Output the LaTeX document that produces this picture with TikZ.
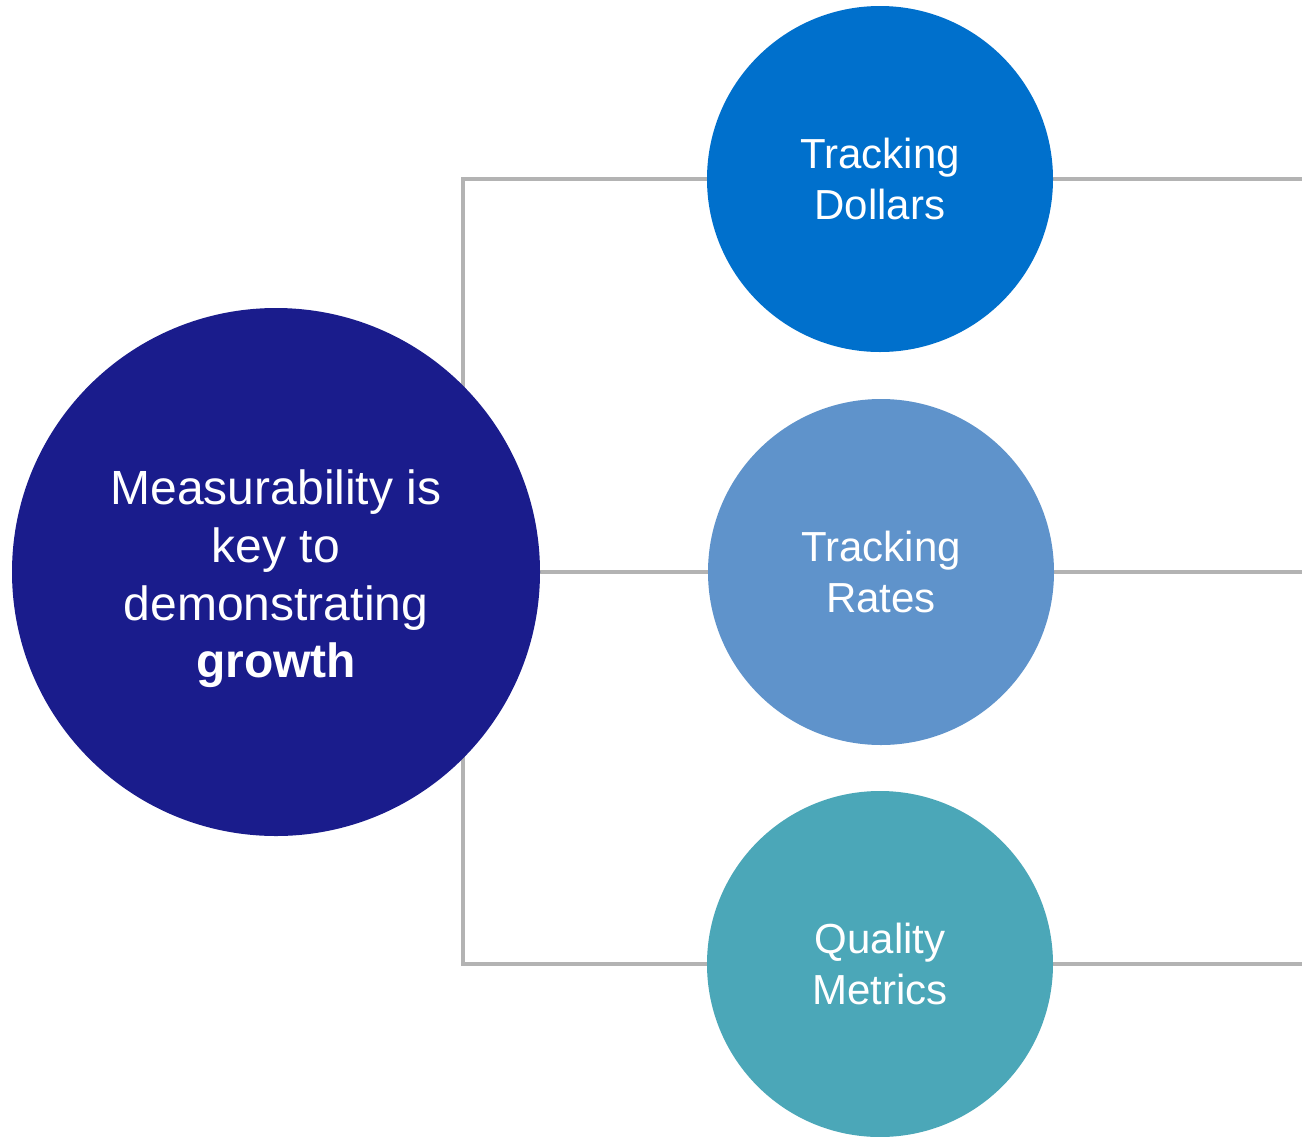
\documentclass[tikz,border=0pt]{standalone}
\usepackage{fontspec}
\setmainfont{Liberation Sans}
\usetikzlibrary{backgrounds}
\definecolor{hubblue}{HTML}{1A1C8C}
\definecolor{dollarblue}{HTML}{0070CC}
\definecolor{rateblue}{HTML}{5F93CB}
\definecolor{qualityteal}{HTML}{4BA7B8}
\definecolor{linkgray}{HTML}{B3B3B3}
\begin{document}
\begin{tikzpicture}[x=1pt,y=-1pt,
  hubcircle/.style={circle,inner sep=0pt,minimum size=528pt,fill=hubblue},
  hubtext/.style={text=white,align=center,inner sep=0pt,
    font=\fontsize{48}{57.6}\selectfont},
  topic/.style={circle,inner sep=0pt,minimum size=346pt,
    text=white,align=center,font=\fontsize{42}{50.4}\selectfont},
  link/.style={draw=linkgray,line width=3.5pt}]
\useasboundingbox (0,0) rectangle (1302,1136);

\node[hubcircle] (hub) at (276,572) {};
\node[hubtext] (hublabel) at ([yshift=-7pt]hub.center)
  {Measurability is\\key to\\demonstrating\\\textbf{growth}};
\node[topic,fill=dollarblue] (dollars) at (880,179) {Tracking\\Dollars};
\node[topic,fill=rateblue] (rates) at (881,572) {Tracking\\Rates};
\node[topic,fill=qualityteal] (quality) at (880,964) {Quality\\Metrics};

\coordinate (spine) at (463,572);
\coordinate (dollarsout) at (1302,179);
\coordinate (ratesout) at (1302,572);
\coordinate (qualityout) at (1302,964);

\begin{scope}[on background layer]
  \fill[white] (0,0) rectangle (1302,1136);
  \draw[link] (dollars.west) -| (spine);
  \draw[link] (quality.west) -| (spine);
  \draw[link] (hub.east) -- (rates.west);
  \draw[link] (dollars.east) -- (dollarsout);
  \draw[link] (rates.east) -- (ratesout);
  \draw[link] (quality.east) -- (qualityout);
\end{scope}
\end{tikzpicture}
\end{document}
